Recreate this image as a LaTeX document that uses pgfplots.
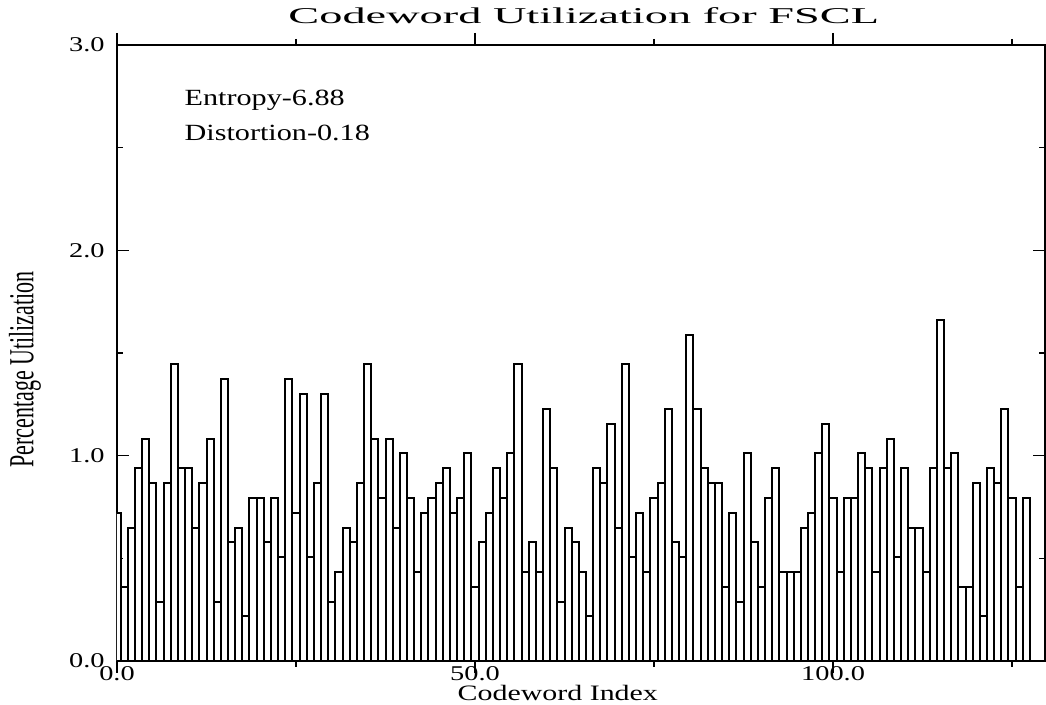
\documentclass[border=0pt]{standalone}
\usepackage{fontspec}
\setmainfont{Liberation Serif}
\newfontfamily\fTitle[FakeStretch=2.05]{Liberation Serif}
\newfontfamily\fLab[FakeStretch=1.3]{Liberation Serif}
\newfontfamily\fXlab[FakeStretch=1.36]{Liberation Serif}
\newfontfamily\fTick[FakeStretch=1.35]{Liberation Serif}
\usepackage{graphicx}
\usepackage{pgfplots}
\usepackage{pgfplotstable}
\pgfplotsset{compat=1.18}
\usetikzlibrary{calc}
\pgfplotstableread{
x y
0 0.722
1 0.361
2 0.650
3 0.939
4 1.083
5 0.866
6 0.289
7 0.866
8 1.444
9 0.939
10 0.939
11 0.650
12 0.866
13 1.083
14 0.289
15 1.372
16 0.578
17 0.650
18 0.217
19 0.794
20 0.794
21 0.578
22 0.794
23 0.505
24 1.372
25 0.722
26 1.300
27 0.505
28 0.866
29 1.300
30 0.289
31 0.433
32 0.650
33 0.578
34 0.866
35 1.444
36 1.083
37 0.794
38 1.083
39 0.650
40 1.011
41 0.794
42 0.433
43 0.722
44 0.794
45 0.866
46 0.939
47 0.722
48 0.794
49 1.011
50 0.361
51 0.578
52 0.722
53 0.939
54 0.794
55 1.011
56 1.444
57 0.433
58 0.578
59 0.433
60 1.227
61 0.939
62 0.289
63 0.650
64 0.578
65 0.433
66 0.217
67 0.939
68 0.866
69 1.155
70 0.650
71 1.444
72 0.505
73 0.722
74 0.433
75 0.794
76 0.866
77 1.227
78 0.578
79 0.505
80 1.588
81 1.227
82 0.939
83 0.866
84 0.866
85 0.361
86 0.722
87 0.289
88 1.011
89 0.578
90 0.361
91 0.794
92 0.939
93 0.433
94 0.433
95 0.433
96 0.650
97 0.722
98 1.011
99 1.155
100 0.794
101 0.433
102 0.794
103 0.794
104 1.011
105 0.939
106 0.433
107 0.939
108 1.083
109 0.505
110 0.939
111 0.650
112 0.650
113 0.433
114 0.939
115 1.660
116 0.939
117 1.011
118 0.361
119 0.361
120 0.866
121 0.217
122 0.939
123 0.866
124 1.227
125 0.794
126 0.361
127 0.794
}\data
\begin{document}
\begin{tikzpicture}
\begin{axis}[
  scale only axis,
  width=464pt, height=308pt,
  xmin=0, xmax=129.6, ymin=0, ymax=3,
  axis line style={line width=0.7pt},
  xtick={0,50,100}, minor xtick={25,75,125},
  xticklabels={0.0,50.0,100.0},
  ytick={0,1,2,3}, minor ytick={0.5,1.5,2.5},
  yticklabels={0.0,1.0,2.0,3.0},
  tick align=inside,
  major tick length=6pt, minor tick length=3pt,
  every tick/.style={black, line width=0.6pt},
  xticklabel style={font=\fontsize{10.5}{12}\fTick, inner sep=0pt, yshift=3.5pt},
  yticklabel style={font=\fontsize{10.5}{12}\fTick, inner sep=0pt, xshift=-6pt},
  ybar, bar width=1,
  clip=true,
]
\addplot[draw=black, fill=white, line width=1pt] table[x=x, y=y] {\data};
\node[anchor=west, font=\fontsize{11.6}{14}\fLab, inner sep=0pt] at (axis cs:9.4,2.73) {Entropy-6.88};
\node[anchor=west, font=\fontsize{11.6}{14}\fLab, inner sep=0pt] at (axis cs:9.4,2.57) {Distortion-0.18};
\coordinate (SW) at (rel axis cs:0,0);
\coordinate (SE) at (rel axis cs:1,0);
\coordinate (NW) at (rel axis cs:0,1);
\coordinate (NE) at (rel axis cs:1,1);
\end{axis}
\node[font=\fontsize{11}{13}\fXlab, inner sep=0pt] at ($(SW)!0.475!(SE)+(0,-16pt)$) {Codeword Index};
\node[font=\fontsize{11.3}{13}\fTitle, inner sep=0pt] at ($(NW)!0.503!(NE)+(0,14.75pt)$) {Codeword Utilization for FSCL};
\node[rotate=90, inner sep=0pt] at ($(SW)!0.473!(NW)+(-46pt,0)$) {\scalebox{1}[1.6]{\fontsize{11}{13}\selectfont Percentage Utilization}};
\pgfresetboundingbox
\path[use as bounding box] ($(SW)+(-58.5pt,-22pt)$) rectangle ($(NE)+(0.5pt,22.5pt)$);
\end{tikzpicture}
\end{document}
